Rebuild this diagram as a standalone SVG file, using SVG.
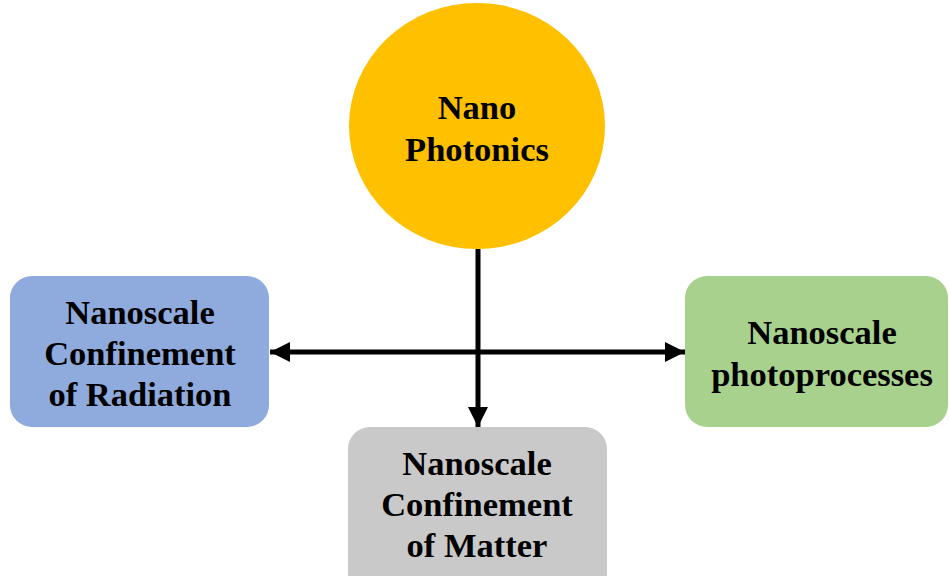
<svg xmlns="http://www.w3.org/2000/svg" width="949" height="576" viewBox="0 0 949 576">
<style>
.t{font-family:"Liberation Serif","Times New Roman",serif;font-weight:bold;font-size:34.5px;fill:#000;text-anchor:middle}
.c{stroke:#000;stroke-width:5;fill:none}
</style>
<defs>
<marker id="ah" viewBox="0 0 10 10" refX="10" refY="5" markerWidth="4.4" markerHeight="4" orient="auto-start-reverse" markerUnits="strokeWidth">
<path d="M0,0 L10,5 L0,10 z" fill="#000"/>
</marker>
</defs>
<rect width="949" height="576" fill="#fff"/>
<g id="connectors">
<line class="c" x1="478" y1="249" x2="478" y2="427" marker-end="url(#ah)"/>
<line class="c" x1="270" y1="352" x2="685" y2="352" marker-start="url(#ah)" marker-end="url(#ah)"/>
</g>
<g id="nano-photonics">
<ellipse cx="477" cy="126" rx="128" ry="123" fill="#FFC000"/>
<text class="t" x="477" y="119">Nano</text>
<text class="t" x="477" y="161">Photonics</text>
</g>
<g id="radiation">
<rect x="10" y="276" width="259" height="151" rx="22" fill="#8FAADC"/>
<text class="t" x="140" y="324">Nanoscale</text>
<text class="t" x="140" y="365">Confinement</text>
<text class="t" x="140" y="406">of Radiation</text>
</g>
<g id="photoprocesses">
<rect x="685" y="276" width="263" height="151" rx="22" fill="#A9D18E"/>
<text class="t" x="822" y="344">Nanoscale</text>
<text class="t" x="822" y="386">photoprocesses</text>
</g>
<g id="matter">
<rect x="348" y="427" width="259" height="170" rx="22" fill="#C9C9C9"/>
<text class="t" x="477" y="475">Nanoscale</text>
<text class="t" x="477" y="516">Confinement</text>
<text class="t" x="477" y="557">of Matter</text>
</g>
</svg>
